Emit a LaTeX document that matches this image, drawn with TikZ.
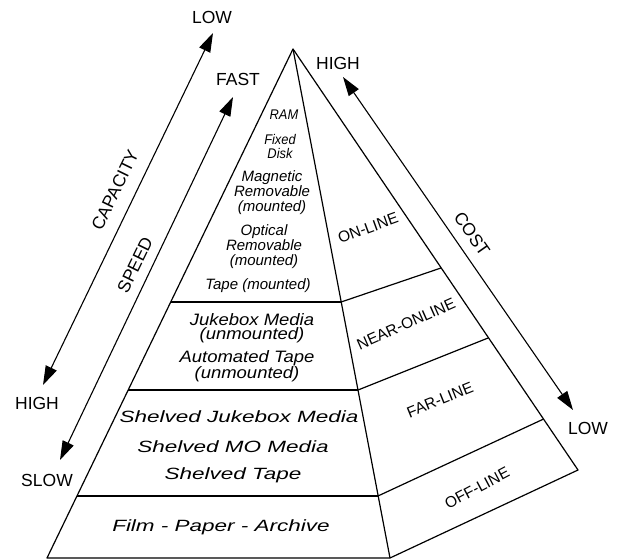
\documentclass[tikz,border=0pt]{standalone}
\usepackage{fontspec}
\setmainfont{Liberation Sans}
\usepackage{tikz}
\usetikzlibrary{arrows.meta}
\usetikzlibrary{calc}

\begin{document}
\begin{tikzpicture}[x=1pt,y=1pt,
	bothWays/.style={{Triangle[length=19pt,width=12pt]}-{Triangle[length=19pt,width=12pt]}, line width=1.1pt},
	axisText/.style={font=\fontsize{17.5}{20}\selectfont},
	levelText/.style={font=\fontsize{15.5}{18}\selectfont},
	topMedia/.style={font=\itshape\addfontfeatures{FakeStretch=0.92}\fontsize{14}{14}\selectfont, align=center},
	upMedia/.style={font=\itshape\fontsize{15}{15}\selectfont, align=center},
	midMedia/.style={font=\itshape\addfontfeatures{FakeStretch=1.12}\fontsize{16.5}{14.5}\selectfont, align=center},
	lowMedia/.style={font=\itshape\addfontfeatures{FakeStretch=1.38}\fontsize{16.3}{18}\selectfont}
]
	\useasboundingbox (0,0) rectangle (620,559);

	% corners of the pyramid
	\coordinate (apex) at (293,510);
	\coordinate (baseL) at (47,1);
	\coordinate (baseF) at (390,1);
	\coordinate (baseR) at (578,89);

	\draw[line width=1.2pt, line join=round] (apex) -- (baseL) -- (baseF) -- (baseR) -- cycle;
	\draw[line width=1.2pt] (apex) -- (baseF);

	% front face - media tiers
	\foreach \t in {0.497,0.670,0.878} {
		\draw[line width=1.2pt] ($(apex)!\t!(baseL)$) -- ($(apex)!\t!(baseF)$);
	}
	% side face - access levels
	\foreach \t/\s in {0.497/0.520,0.670/0.686,0.878/0.879} {
		\draw[line width=1.2pt] ($(apex)!\t!(baseF)$) -- ($(apex)!\s!(baseR)$);
	}

	\node[topMedia] (ram) at (284,444) {RAM};
	\node[topMedia] (disk) at (280,412) {Fixed\\Disk};
	\node[upMedia] (magnetic) at (272,366) {Magnetic\\Removable\\(mounted)};
	\node[upMedia] (optical) at (264,312) {Optical\\Removable\\(mounted)};
	\node[upMedia] (tapeOn) at (258,273) {Tape (mounted)};
	\node[midMedia] (jukebox) at (252,231) {Jukebox Media\\(unmounted)};
	\node[midMedia] (autoTape) at (247,193) {Automated Tape\\(unmounted)};
	\node[lowMedia] (shelvedJuke) at (239,142) {Shelved Jukebox Media};
	\node[lowMedia] (shelvedMO) at (233,112) {Shelved MO Media};
	\node[lowMedia] (shelvedTape) at (233,84) {Shelved Tape};
	\node[lowMedia] (archive) at (221,32) {Film - Paper - Archive};

	\node[levelText, rotate=20] (online) at (368,331) {ON-LINE};
	\node[levelText, rotate=24] (nearline) at (406,235) {NEAR-ONLINE};
	\node[levelText, rotate=22] (farline) at (440,159) {FAR-LINE};
	\node[levelText, rotate=28] (offline) at (477,71) {OFF-LINE};

	% the three scales
	\coordinate (capHi) at (213,526);
	\coordinate (capLo) at (43,174);
	\coordinate (speedHi) at (233,462);
	\coordinate (speedLo) at (60,99);
	\coordinate (costHi) at (343,482);
	\coordinate (costLo) at (573,149);
	\draw[bothWays] (capLo) -- (capHi);
	\draw[bothWays] (speedLo) -- (speedHi);
	\draw[bothWays] (costLo) -- (costHi);

	\node[axisText] (capTop) at (212,542) {LOW};
	\node[axisText] (capBottom) at (37,156) {HIGH};
	\node[axisText, rotate=64] (capacity) at (115,369) {CAPACITY};
	\node[axisText] (speedTop) at (238,480) {FAST};
	\node[axisText] (speedBottom) at (47,79) {SLOW};
	\node[axisText, rotate=64] (speed) at (135,294) {SPEED};
	\node[axisText] (costTop) at (338,496) {HIGH};
	\node[axisText] (costBottom) at (588,131) {LOW};
	\node[axisText, rotate=-55] (cost) at (472,325) {COST};
\end{tikzpicture}
\end{document}
